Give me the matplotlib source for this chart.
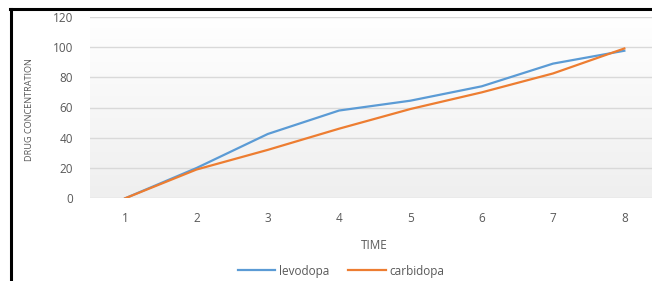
import numpy as np
import matplotlib
matplotlib.use("Agg")
import matplotlib.pyplot as plt
from matplotlib.lines import Line2D

plt.rcParams["font.family"] = ["Open Sans", "DejaVu Sans"]

# data
time = [1, 2, 3, 4, 5, 6, 7, 8]
levodopa = [0, 20, 42.5, 58, 64.5, 74, 89, 97.5]
carbidopa = [0, 19, 32, 46, 59, 70, 82.5, 99]
y_ticks = [0, 20, 40, 60, 80, 100, 120]

W, H = 652, 281
fig = plt.figure(figsize=(W / 100, H / 100), dpi=100)
fig.patch.set_facecolor("white")

# plot area in pixels (runs off the right edge like the reference)
left, right, top, bottom = 89.5, 660.0, 16.7, 198.3
ax = fig.add_axes([left / W, 1 - bottom / H, (right - left) / W, (bottom - top) / H])

# soft vertical gradient behind the plot
grad = np.linspace(0, 1, 256).reshape(-1, 1)
ax.imshow(grad, extent=[0.5, 8.5, 0, 120], aspect="auto", origin="lower",
          cmap=matplotlib.colors.LinearSegmentedColormap.from_list("bg", ["#efefef", "#ffffff"]),
          zorder=0)

for yv in y_ticks:
    ax.axhline(yv, color="#d9d9d9", lw=1.0, zorder=1)

ax.plot(time, levodopa, color="#5b9bd5", lw=1.6, label="levodopa", zorder=3)
ax.plot(time, carbidopa, color="#ed7d31", lw=1.6, label="carbidopa", zorder=3)

ax.set_xlim(0.5, 8.5)
ax.set_ylim(0, 120)
ax.set_xticks(time)
ax.set_yticks(y_ticks)
ax.tick_params(length=0, labelsize=8.5, labelcolor="#595959", pad=10)
ax.tick_params(axis="y", pad=12)
for s in ax.spines.values():
    s.set_visible(False)

ax.set_xlabel("TIME", fontsize=8.5, color="#595959", labelpad=10)
fig.text(30 / W, 1 - 110 / H, "DRUG CONCENTRATION", rotation=90, fontsize=6.6,
         color="#595959", ha="center", va="center")

fig.legend(loc="center", bbox_to_anchor=(341 / W, 1 - 271 / H), ncol=2, frameon=False,
           fontsize=8.5, handlelength=3.2, handletextpad=0.3, columnspacing=1.6,
           labelcolor="#595959")

# black frame lines on top and left of the picture
fig.add_artist(Line2D([10 / W, 1], [1 - 8.5 / H, 1 - 8.5 / H], color="black", lw=2.2,
                      transform=fig.transFigure))
fig.add_artist(Line2D([11 / W, 11 / W], [0, 1 - 8.5 / H], color="black", lw=2.2,
                      transform=fig.transFigure))

fig.savefig("out.png", dpi=100)
